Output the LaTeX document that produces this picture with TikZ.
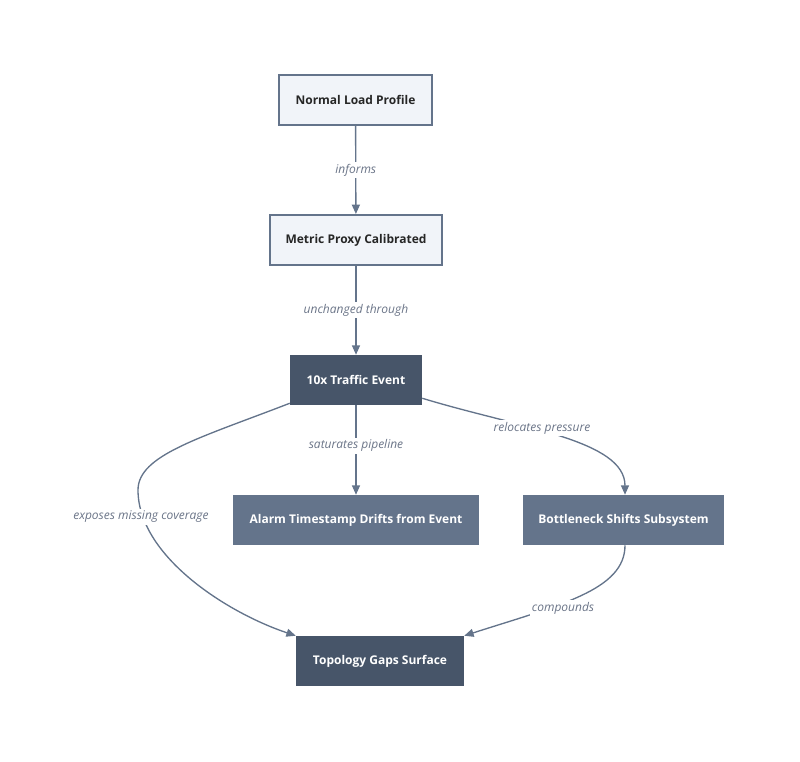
\documentclass[tikz,border=0pt]{standalone}
\usepackage{fontspec}
\setmainfont{Open Sans}
\usetikzlibrary{arrows.meta}
\definecolor{edgec}{HTML}{64748B}
\definecolor{darkc}{HTML}{475569}
\definecolor{medc}{HTML}{64748B}
\definecolor{lightc}{HTML}{F1F4F9}
\definecolor{lblc}{HTML}{6B7588}
\tikzset{
  box/.style={rectangle, minimum height=50*0.75pt, inner sep=0pt, font=\fontsize{9}{11}\selectfont\bfseries},
  lightbox/.style={box, fill=lightc, draw=edgec, line width=1.5pt, text=black!85},
  darkbox/.style={box, fill=darkc, text=white},
  medbox/.style={box, fill=medc, text=white},
  conn/.style={draw=edgec, line width=1pt, -{Triangle[length=7pt,width=6pt]}},
  lbl/.style={fill=white, inner sep=1.5pt, text=lblc, font=\fontsize{9}{11}\selectfont\itshape}
}
\begin{document}
\begin{tikzpicture}[x=0.75pt,y=-0.75pt]
\useasboundingbox (0,0) rectangle (800,761);
\node[lightbox, minimum width=153*0.75pt] (nlp) at (355.5,100) {Normal Load Profile};
\node[lightbox, minimum width=172*0.75pt] (mpc) at (356,240) {Metric Proxy Calibrated};
\node[darkbox, minimum width=132*0.75pt] (tte) at (356,380) {10x Traffic Event};
\node[medbox, minimum width=246*0.75pt] (atd) at (356,520) {Alarm Timestamp Drifts from Event};
\node[medbox, minimum width=201*0.75pt] (bss) at (623.5,520) {Bottleneck Shifts Subsystem};
\node[darkbox, minimum width=168*0.75pt] (tgs) at (380,661) {Topology Gaps Surface};

\draw[conn] (nlp) -- node[lbl] {informs} (mpc);
\draw[conn] (mpc) -- node[lbl] {unchanged through} (tte);
\draw[conn] (tte) -- node[lbl, pos=0.45] {saturates pipeline} (atd);
\draw[conn] (tte.south east) ++(0,-7) coordinate (tteR)
  (tteR) .. controls (520,428) and (625,440) .. (bss.north -| 625,0);
\node[lbl] at (542,428) {relocates pressure};
\draw[conn] (tte.south west) ++(0,-2) coordinate (tteL)
  (tteL) .. controls (200,438) and (138,455) .. (138,490)
  .. controls (138,555) and (225,612) .. (tgs.north west);
\node[lbl] at (141,517) {exposes missing coverage};
\draw[conn] (bss.south -| 625,0) coordinate (bssB)
  (bssB) .. controls (625,590) and (560,605) .. (tgs.north east);
\node[lbl] at (563,608) {compounds};
\end{tikzpicture}
\end{document}
